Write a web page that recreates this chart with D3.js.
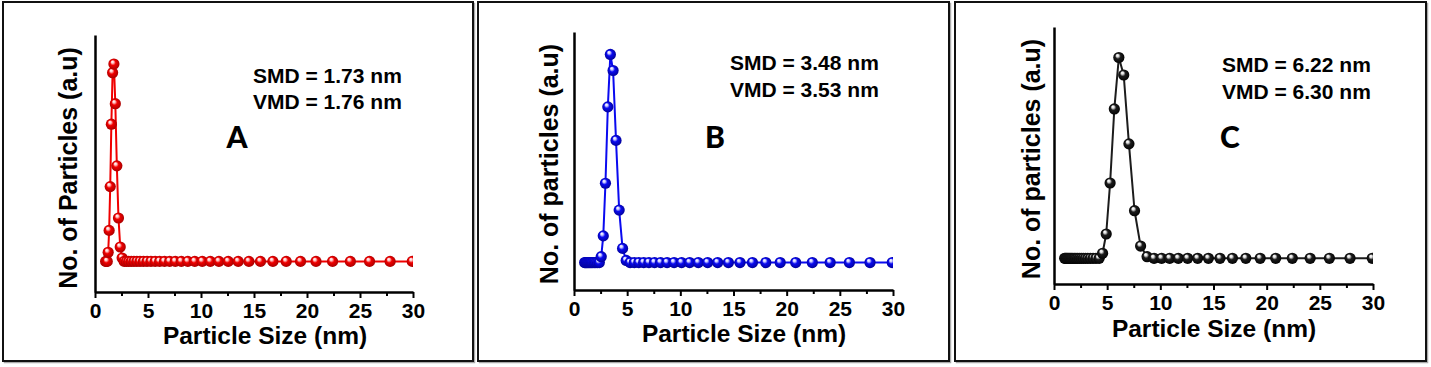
<!DOCTYPE html>
<meta charset="utf-8">
<script src="https://cdn.jsdelivr.net/npm/d3@7/dist/d3.min.js"></script>
<style>
    body { margin: 0; background: #fff; }
    svg { display: block; }
    text { font-family: "Liberation Sans", Arial, sans-serif; font-weight: bold; fill: #000; }
    .letter { font-family: Lato, "Open Sans", sans-serif; font-weight: 900; }
</style>
<svg id="chart" width="1431" height="367"></svg>
<script>

// particle size bins (nm), same for all three samples
var binSizes = [1.00, 1.075, 1.156, 1.242, 1.335, 1.436, 1.543, 1.659, 1.783, 1.917,
    2.061, 2.215, 2.381, 2.560, 2.752, 2.959, 3.181, 3.419, 3.676, 3.951,
    4.248, 4.566, 4.909, 5.277, 5.673, 6.098, 6.556, 7.047, 7.576, 8.144,
    8.755, 9.412, 10.12, 10.88, 11.69, 12.57, 13.51, 14.52, 15.61, 16.78,
    18.04, 19.39, 20.85, 22.41, 24.09, 25.90, 27.84, 29.93];

// no. of particles (a.u.)
var countsA = [0, 0, 0, 4.6, 15.7, 37.9, 69.5, 95.6, 100, 79.9,
    48.4, 22.0, 7.3, 1.7, 0, 0, 0, 0, 0, 0,
    0, 0, 0, 0, 0, 0, 0, 0, 0, 0,
    0, 0, 0, 0, 0, 0, 0, 0, 0, 0,
    0, 0, 0, 0, 0, 0, 0, 0];
var countsB = [0, 0, 0, 0, 0, 0, 0, 0, 0, 0,
    0, 0, 0, 2.8, 12.8, 38.1, 74.8, 100, 92.3, 58.7,
    25.2, 6.8, 1.0, 0, 0, 0, 0, 0, 0, 0,
    0, 0, 0, 0, 0, 0, 0, 0, 0, 0,
    0, 0, 0, 0, 0, 0, 0, 0];
var countsC = [0, 0, 0, 0, 0, 0, 0, 0, 0, 0,
    0, 0, 0, 0, 0, 0, 0, 0, 0, 0,
    0, 2.5, 12.1, 37.5, 74.4, 100, 91.3, 57.0, 23.7, 6.1,
    0.8, 0, 0, 0, 0, 0, 0, 0, 0, 0,
    0, 0, 0, 0, 0, 0, 0, 0];

var xMajorTicks = [0, 5, 10, 15, 20, 25, 30];
var xMinorTicks = [2.5, 7.5, 12.5, 17.5, 22.5, 27.5];
var panelLetters = ["A", "B", "C"];
var smdLabels = ["SMD = 1.73 nm", "SMD = 3.48 nm", "SMD = 6.22 nm"];
var vmdLabels = ["VMD = 1.76 nm", "VMD = 3.53 nm", "VMD = 6.30 nm"];
var yTitles = ["No. of Particles (a.u)", "No. of particles (a.u)", "No. of particles (a.u)"];
var xTitle = "Particle Size (nm)";

// layout of each framed panel
var panels = [
    { counts: countsA, color: "#f00000", light: "#ffc8c8", dark: "#a00000",
      box: [3, 2, 470, 359], plot: {left: 95, right: 413, top: 35, bottom: 292},
      yDomain: [-15.5, 114.7], yTitleX: 77, yTitleY: 168, xTitleX: 265, xTitleY: 344,
      smdX: 253, smdY: 83, vmdY: 109, letterX: 237, letterY: 148 },
    { counts: countsB, color: "#0a0af0", light: "#d0d0ff", dark: "#000090",
      box: [478, 2, 471, 359], plot: {left: 574, right: 893, top: 32, bottom: 290},
      yDomain: [-13.2, 110.8], yTitleX: 558, yTitleY: 164, xTitleX: 744, xTitleY: 342,
      smdX: 730, smdY: 70, vmdY: 97, letterX: 715, letterY: 148 },
    { counts: countsC, color: "#1c1c1c", light: "#e0e0e0", dark: "#000000",
      box: [955, 2, 471, 359], plot: {left: 1054, right: 1373, top: 27, bottom: 284},
      yDomain: [-12.8, 115.2], yTitleX: 1040, yTitleY: 159, xTitleX: 1214, xTitleY: 337,
      smdX: 1222, smdY: 72, vmdY: 99, letterX: 1230, letterY: 148 }
];

var svg = d3.select("#chart");
var defs = svg.append("defs");

panels.forEach(function(p, i) {
    // shiny sphere gradient
    var g = defs.append("radialGradient")
        .attr("id", "ball" + i)
        .attr("cx", "50%").attr("cy", "50%").attr("r", "55%")
        .attr("fx", "35%").attr("fy", "28%");
    g.append("stop").attr("offset", "0%").attr("stop-color", "#ffffff");
    g.append("stop").attr("offset", "20%").attr("stop-color", p.light);
    g.append("stop").attr("offset", "45%").attr("stop-color", p.color);
    g.append("stop").attr("offset", "100%").attr("stop-color", p.dark);

    defs.append("clipPath").attr("id", "clip" + i)
        .append("rect")
        .attr("x", p.plot.left - 10)
        .attr("y", p.plot.top - 10)
        .attr("width", p.plot.right - p.plot.left + 10)
        .attr("height", p.plot.bottom - p.plot.top + 10);
});

panels.forEach(function(p, i) {

    // frame with a light shadow
    svg.append("rect")
        .attr("x", p.box[0] + 1.5).attr("y", p.box[1] + 1.5)
        .attr("width", p.box[2]).attr("height", p.box[3])
        .attr("fill", "none").attr("stroke", "#aaa").attr("stroke-width", 1.5);
    svg.append("rect")
        .attr("x", p.box[0]).attr("y", p.box[1])
        .attr("width", p.box[2]).attr("height", p.box[3])
        .attr("fill", "#fff").attr("stroke", "#111").attr("stroke-width", 2);

    var x = d3.scaleLinear().domain([0, 30]).range([p.plot.left, p.plot.right]);
    var y = d3.scaleLinear().domain(p.yDomain).range([p.plot.bottom, p.plot.top]);

    var pts = binSizes.map(function(s, k) { return {size: s, n: p.counts[k]}; });

    var line = d3.line()
        .x(function(d) { return x(d.size); })
        .y(function(d) { return y(d.n); });

    var plotG = svg.append("g").attr("clip-path", "url(#clip" + i + ")");

    plotG.append("path")
        .datum(pts)
        .attr("fill", "none")
        .attr("stroke", p.color)
        .attr("stroke-width", 2)
        .attr("stroke-linejoin", "round")
        .attr("d", line);

    plotG.selectAll("circle")
        .data(pts)
        .enter()
        .append("circle")
        .attr("cx", function(d) { return x(d.size); })
        .attr("cy", function(d) { return y(d.n); })
        .attr("r", 5.6)
        .attr("fill", "url(#ball" + i + ")");

    // axes
    var xAxis = svg.append("g")
        .attr("transform", "translate(0," + p.plot.bottom + ")")
        .call(d3.axisBottom(x).tickValues(xMajorTicks).tickSize(6).tickSizeOuter(0).tickPadding(5));
    xAxis.select(".domain").attr("stroke-width", 2.5);
    xAxis.selectAll(".tick line").attr("stroke-width", 2);
    xAxis.selectAll(".tick text")
        .attr("font-size", 21)
        .attr("font-family", "Liberation Sans, Arial, sans-serif")
        .attr("font-weight", "bold")
        .style("font-size", "21px");

    var xMinor = svg.append("g")
        .attr("transform", "translate(0," + p.plot.bottom + ")")
        .call(d3.axisBottom(x).tickValues(xMinorTicks).tickSize(4).tickFormat(""));
    xMinor.select(".domain").remove();
    xMinor.selectAll(".tick line").attr("stroke-width", 2);

    var yAxis = svg.append("g")
        .attr("transform", "translate(" + p.plot.left + ",0)")
        .call(d3.axisLeft(y).tickValues([]).tickSizeOuter(0));
    yAxis.select(".domain").attr("stroke-width", 2.5);

    // titles
    svg.append("text")
        .attr("x", p.xTitleX).attr("y", p.xTitleY)
        .attr("text-anchor", "middle")
        .attr("font-size", 24.5)
        .text(xTitle);

    svg.append("text")
        .attr("transform", "translate(" + p.yTitleX + "," + p.yTitleY + ") rotate(-90)")
        .attr("text-anchor", "middle")
        .attr("font-size", 25)
        .text(yTitles[i]);

    svg.append("text")
        .attr("x", p.smdX).attr("y", p.smdY)
        .attr("font-size", 21)
        .text(smdLabels[i]);
    svg.append("text")
        .attr("x", p.smdX).attr("y", p.vmdY)
        .attr("font-size", 21)
        .text(vmdLabels[i]);

    svg.append("text")
        .attr("class", "letter")
        .attr("x", p.letterX).attr("y", p.letterY)
        .attr("text-anchor", "middle")
        .attr("font-size", 30)
        .text(panelLetters[i]);
});

</script>
